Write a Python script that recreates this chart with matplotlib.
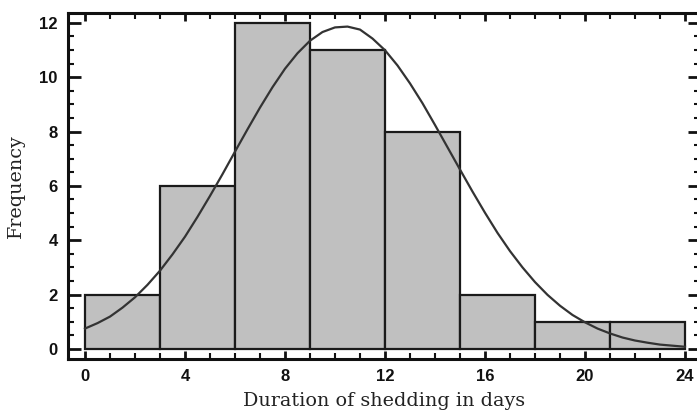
import matplotlib
matplotlib.use("Agg")
import matplotlib.pyplot as plt
from matplotlib.ticker import MultipleLocator

bin_edges = [0, 3, 6, 9, 12, 15, 18, 21, 24]
counts = [2, 6, 12, 11, 8, 2, 1, 1]

curve_x = [0, 0.5, 1, 1.5, 2, 2.5, 3, 3.5, 4, 4.5, 5, 5.5, 6, 6.5, 7, 7.5, 8, 8.5,
           9, 9.5, 10, 10.5, 11, 11.5, 12, 12.5, 13, 13.5, 14, 14.5, 15, 15.5, 16,
           16.5, 17, 17.5, 18, 18.5, 19, 19.5, 20, 20.5, 21, 21.5, 22, 22.5, 23, 23.5, 24]
curve_y = [0.75, 0.95, 1.19, 1.52, 1.90, 2.36, 2.88, 3.48, 4.13, 4.86, 5.63, 6.43, 7.26,
           8.08, 8.88, 9.63, 10.31, 10.88, 11.34, 11.66, 11.83, 11.86, 11.75, 11.42, 10.99,
           10.43, 9.77, 9.04, 8.24, 7.42, 6.60, 5.79, 5.01, 4.27, 3.60, 3.00, 2.46, 1.99,
           1.59, 1.25, 0.98, 0.75, 0.57, 0.42, 0.31, 0.23, 0.16, 0.12, 0.08]

xticks = [0, 4, 8, 12, 16, 20, 24]
yticks = [0, 2, 4, 6, 8, 10, 12]

fig = plt.figure(figsize=(6.97, 4.11), dpi=100)
ax = fig.add_axes([68/697, 1-359/411, (700-68)/697, (359-13)/411])

lefts = bin_edges[:-1]
widths = [bin_edges[i+1]-bin_edges[i] for i in range(len(counts))]
ax.bar(lefts, counts, width=widths, align='edge', color='#c0c0c0',
       edgecolor='#1a1a1a', linewidth=1.6, zorder=2)
ax.plot(curve_x, curve_y, color='#333333', linewidth=1.6, zorder=3)

ax.set_xlim(-0.68, 24.6)
ax.set_ylim(-0.37, 12.36)
ax.set_xticks(xticks)
ax.set_yticks(yticks)
ax.xaxis.set_minor_locator(MultipleLocator(1))
ax.yaxis.set_minor_locator(MultipleLocator(0.5))

for s in ['left', 'bottom', 'top']:
    ax.spines[s].set_linewidth(2.2)
    ax.spines[s].set_color('#111111')
ax.spines['right'].set_visible(False)

ax.tick_params(axis='both', which='both', direction='in', colors='#111111',
               top=True, right=True)
ax.tick_params(axis='y', which='major', length=9, width=2, pad=7.5)
ax.tick_params(axis='y', which='minor', length=4, width=1.5)
ax.tick_params(axis='x', which='major', length=6, width=2, pad=7)
ax.tick_params(axis='x', which='minor', length=4, width=1.5)

for lab in ax.get_xticklabels() + ax.get_yticklabels():
    lab.set_fontfamily(['Liberation Sans', 'DejaVu Sans'])
    lab.set_fontweight('bold')
    lab.set_fontsize(12)
    lab.set_color('#111111')

ax.set_xlabel('Duration of shedding in days', fontfamily='DejaVu Serif',
              fontsize=13.8, color='#222222', labelpad=6)
ax.set_ylabel('Frequency', fontfamily='DejaVu Serif', fontsize=13.8,
              color='#222222', labelpad=10)

fig.savefig('out.png', dpi=100)
